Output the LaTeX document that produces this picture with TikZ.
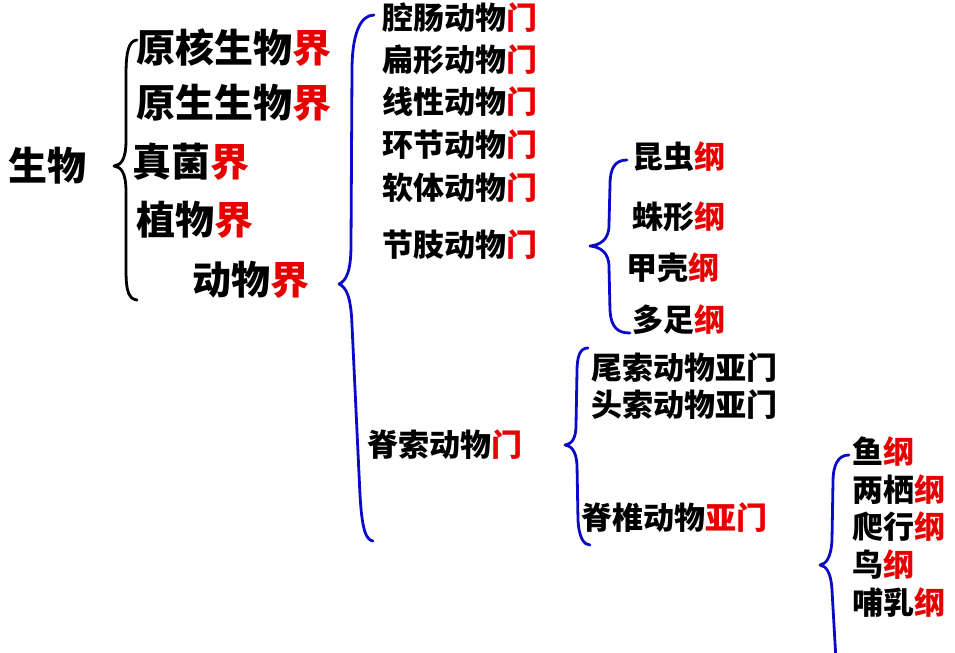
\documentclass[tikz,border=0pt]{standalone}
\usepackage{fontspec}
\newfontfamily\cjk{Noto Sans CJK SC}
\definecolor{jie}{RGB}{232,0,0}
\definecolor{brc}{RGB}{10,10,200}

\begin{document}
\begin{tikzpicture}[x=0.5pt,y=-0.5pt,
    big/.style={anchor=west,inner sep=0pt,font=\cjk\bfseries\fontsize{19.5}{20}\selectfont},
    mid/.style={anchor=west,inner sep=0pt,font=\cjk\bfseries\fontsize{15.5}{16}\selectfont},
    brace/.style={line width=1.4pt,line cap=round,line join=round}]
    \useasboundingbox (0,0) rectangle (955,653);
    % kingdoms
    \node[big] (bio) at (8,166) {生物};
    \node[big] (k1) at (136,48) {原核生物\textcolor{jie}{界}};
    \node[big] (k2) at (136,103) {原生生物\textcolor{jie}{界}};
    \node[big] (k3) at (132,162) {真菌\textcolor{jie}{界}};
    \node[big] (k4) at (136,220) {植物\textcolor{jie}{界}};
    \node[big] (k5) at (192,280) {动物\textcolor{jie}{界}};
    % phyla
    \node[mid] (p1) at (382,18) {腔肠动物\textcolor{jie}{门}};
    \node[mid] (p2) at (382,60) {扁形动物\textcolor{jie}{门}};
    \node[mid] (p3) at (382,102) {线性动物\textcolor{jie}{门}};
    \node[mid] (p4) at (382,145) {环节动物\textcolor{jie}{门}};
    \node[mid] (p5) at (382,188) {软体动物\textcolor{jie}{门}};
    \node[mid] (p6) at (382,245) {节肢动物\textcolor{jie}{门}};
    \node[mid] (p7) at (367,445) {脊索动物\textcolor{jie}{门}};
    % arthropod classes
    \node[mid] (c1) at (632,157) {昆虫\textcolor{jie}{纲}};
    \node[mid] (c2) at (632,217) {蛛形\textcolor{jie}{纲}};
    \node[mid] (c3) at (626,268) {甲壳\textcolor{jie}{纲}};
    \node[mid] (c4) at (632,320) {多足\textcolor{jie}{纲}};
    % subphyla
    \node[mid] (s1) at (591,368) {尾索动物亚门};
    \node[mid] (s2) at (591,405) {头索动物亚门};
    \node[mid] (s3) at (581,518) {脊椎动物\textcolor{jie}{亚门}};
    % vertebrate classes
    \node[mid] (v1) at (852,452) {鱼\textcolor{jie}{纲}};
    \node[mid] (v2) at (852,490) {两栖\textcolor{jie}{纲}};
    \node[mid] (v3) at (852,527) {爬行\textcolor{jie}{纲}};
    \node[mid] (v4) at (852,565) {鸟\textcolor{jie}{纲}};
    \node[mid] (v5) at (852,603) {哺乳\textcolor{jie}{纲}};
    % braces
    \coordinate (A) at (137,40);  \coordinate (B) at (114,166); \coordinate (C) at (137,300);
    \coordinate (D) at (374,15);  \coordinate (E) at (339,284); \coordinate (F) at (373,541);
    \coordinate (G) at (627,160); \coordinate (H) at (590,246); \coordinate (I) at (630,333);
    \coordinate (J) at (588,348); \coordinate (K) at (565,445); \coordinate (L) at (590,545);
    \coordinate (M) at (849,455); \coordinate (N) at (820,565); \coordinate (O) at (836,660);
    \draw[brace] (A) .. controls (129,41) and (126,50) .. (126,75) -- (126,140)
        .. controls (126,160) and (121,165) .. (B) .. controls (121,167) and (126,172) .. (126,192)
        -- (126,270) .. controls (126,292) and (129,299) .. (C);
    \draw[brace,brc] (D) .. controls (360,15) and (352,35) .. (352,70) -- (351,245)
        .. controls (351,272) and (346,281) .. (E) .. controls (346,287) and (351,296) .. (352,325)
        -- (360,495) .. controls (362,530) and (366,540) .. (F);
    \draw[brace,brc] (G) .. controls (615,160) and (610,168) .. (610,185) -- (609,225)
        .. controls (609,240) and (600,245) .. (H) .. controls (600,247) and (609,252) .. (609,267)
        -- (610,310) .. controls (611,328) and (618,333) .. (I);
    \draw[brace,brc] (J) .. controls (580,348) and (577,356) .. (577,372) -- (576,425)
        .. controls (576,440) and (571,444) .. (K) .. controls (571,446) and (576,450) .. (577,465)
        -- (578,520) .. controls (579,538) and (584,545) .. (L);
    \draw[brace,brc] (M) .. controls (838,455) and (833,465) .. (833,482) -- (832,540)
        .. controls (831,558) and (826,564) .. (N) .. controls (826,566) and (831,572) .. (832,590)
        -- (836,660);
\end{tikzpicture}
\end{document}
